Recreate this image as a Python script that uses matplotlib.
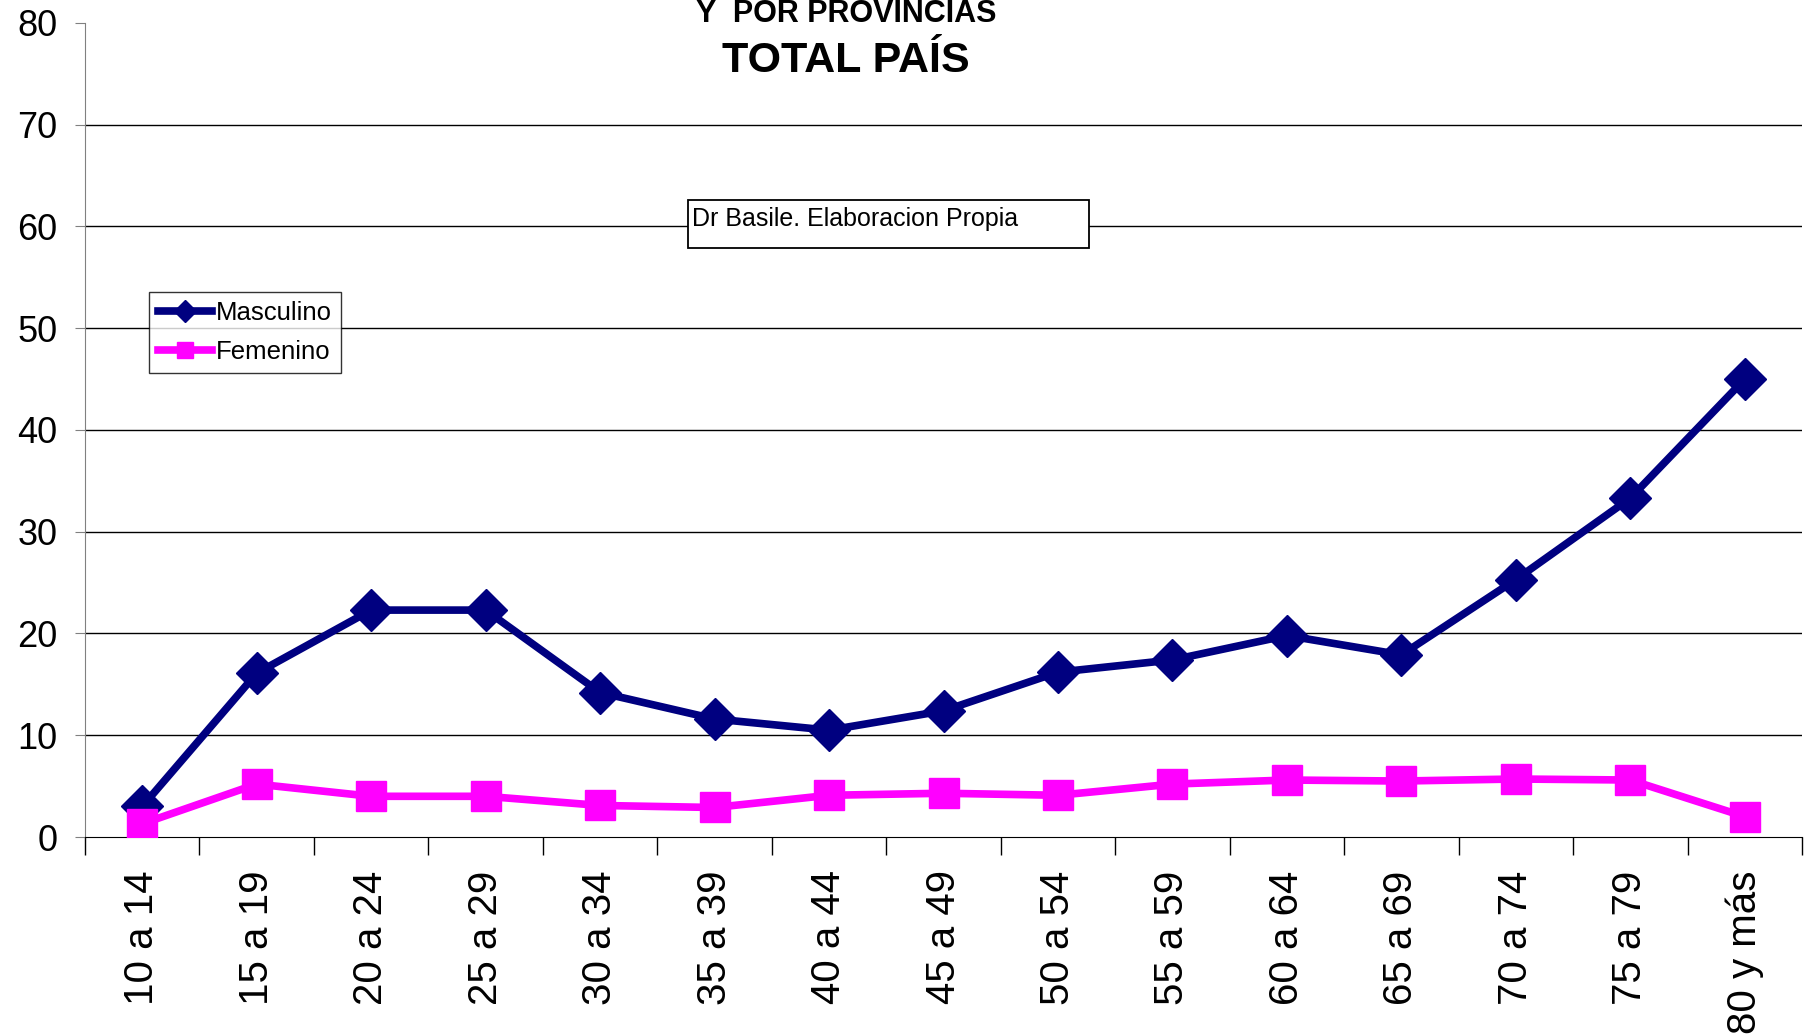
import matplotlib.pyplot as plt
from matplotlib.patches import Rectangle

plt.rcParams["font.family"] = ["Liberation Sans", "DejaVu Sans"]

# Age groups and rates
grupos = ["10 a 14", "15 a 19", "20 a 24", "25 a 29", "30 a 34", "35 a 39",
          "40 a 44", "45 a 49", "50 a 54", "55 a 59", "60 a 64", "65 a 69",
          "70 a 74", "75 a 79", "80 y más"]
masculino = [3.0, 16.1, 22.3, 22.3, 14.2, 11.6, 10.5, 12.4, 16.2, 17.4,
             19.8, 17.9, 25.3, 33.3, 45.0]
femenino = [1.3, 5.2, 4.0, 4.0, 3.1, 2.9, 4.1, 4.3, 4.1, 5.2,
            5.6, 5.5, 5.7, 5.6, 2.0]
yticks = [0, 10, 20, 30, 40, 50, 60, 70, 80]

NAVY = "#000080"
MAGENTA = "#FF00FF"

fig = plt.figure(figsize=(18.16, 10.35), dpi=100)
ax = fig.add_axes([0.0468, 0.1913, 0.9455, 0.7865])

x = list(range(len(grupos)))
ax.plot(x, masculino, color=NAVY, lw=5.5, marker="D", ms=21,
        label="Masculino", zorder=3)
ax.plot(x, femenino, color=MAGENTA, lw=5.5, marker="s", ms=22,
        label="Femenino", zorder=3)

ax.set_xlim(-0.5, len(grupos) - 0.5)
ax.set_ylim(0, 80)
ax.set_yticks(yticks)
ax.set_yticklabels([str(v) for v in yticks], fontsize=26)
ax.tick_params(axis="y", direction="out", length=7, pad=13, color="#808080")
for v in yticks[1:-1]:
    ax.axhline(v, color="black", lw=1, zorder=1)

ax.set_xticks(x)
ax.set_xticklabels(grupos, rotation=90, fontsize=29)
ax.tick_params(axis="x", which="major", length=0, pad=24)
ax.set_xticks([i - 0.5 for i in range(len(grupos) + 1)], minor=True)
ax.tick_params(axis="x", which="minor", direction="out", length=13,
               width=1, color="black")

ax.spines["top"].set_visible(False)
ax.spines["right"].set_visible(False)
ax.spines["left"].set_color("#808080")
ax.spines["bottom"].set_color("black")

leg = ax.legend(loc="upper left", bbox_to_anchor=(0.0373, 0.6695), fontsize=18.5,
                frameon=True, fancybox=False, edgecolor="black",
                handlelength=2.1, handletextpad=0.15, borderpad=0.35,
                labelspacing=0.6, borderaxespad=0, markerscale=0.55)
leg.get_frame().set_linewidth(1)
leg.set_zorder(5)

# source note box
ax.add_patch(Rectangle((0.3512, 0.7236), 0.2335, 0.059, transform=ax.transAxes,
                       fc="white", ec="black", lw=1.3, zorder=4))
ax.text(0.3535, 0.7735, "Dr Basile. Elaboracion Propia", transform=ax.transAxes,
        fontsize=18, va="top", ha="left", zorder=5)

fig.text(0.466, 1 - 22 / 1035, "Y  POR PROVINCIAS", ha="center",
         va="baseline", fontsize=22, fontweight="bold")
fig.text(0.466, 1 - 72 / 1035, "TOTAL PAÍS", ha="center", va="baseline",
         fontsize=31, fontweight="bold")

fig.savefig("out.png", dpi=100)
